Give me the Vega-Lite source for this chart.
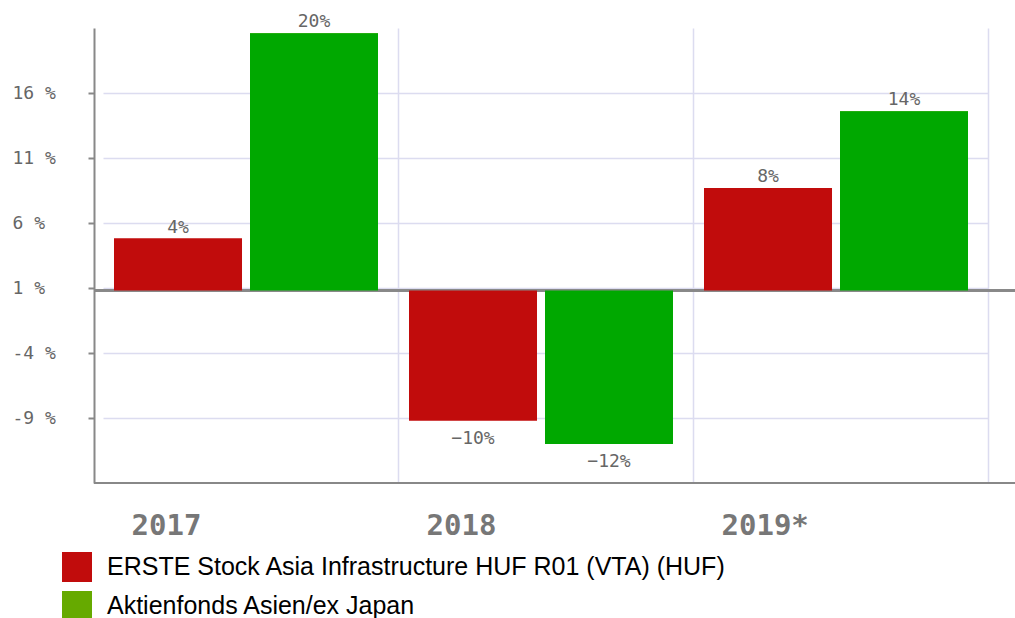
{
  "$schema": "https://vega.github.io/schema/vega-lite/v6.json",
  "autosize": {"type": "none"},
  "width": 921,
  "height": 455,
  "padding": {"left": 94, "top": 28, "right": 0, "bottom": 135},
  "background": "#ffffff",
  "config": {"view": {"stroke": null}},
  "data": {
    "values": [
      {"year": "2017", "series": "ERSTE Stock Asia Infrastructure HUF R01 (VTA) (HUF)", "value": 0.04},
      {"year": "2017", "series": "Aktienfonds Asien/ex Japan", "value": 0.198},
      {"year": "2018", "series": "ERSTE Stock Asia Infrastructure HUF R01 (VTA) (HUF)", "value": -0.1},
      {"year": "2018", "series": "Aktienfonds Asien/ex Japan", "value": -0.118},
      {"year": "2019*", "series": "ERSTE Stock Asia Infrastructure HUF R01 (VTA) (HUF)", "value": 0.079},
      {"year": "2019*", "series": "Aktienfonds Asien/ex Japan", "value": 0.138}
    ]
  },
  "encoding": {
    "x": {
      "field": "year",
      "type": "nominal",
      "sort": ["2017", "2018", "2019*"],
      "scale": {"range": [9, 894], "paddingInner": 0, "paddingOuter": 0},
      "axis": {
        "title": null,
        "grid": true,
        "gridColor": "#dcdcf0",
        "gridWidth": 1.5,
        "bandPosition": 1,
        "ticks": false,
        "tickSize": 0,
        "domain": false,
        "labelAngle": 0,
        "labelAlign": "left",
        "labelOffset": -119,
        "labelPadding": 28,
        "labelFont": "DejaVu Sans Mono",
        "labelFontWeight": "bold",
        "labelFontSize": 29,
        "labelColor": "#777777"
      }
    },
    "xOffset": {
      "field": "series",
      "type": "nominal",
      "sort": ["ERSTE Stock Asia Infrastructure HUF R01 (VTA) (HUF)", "Aktienfonds Asien/ex Japan"],
      "scale": {"paddingInner": 0.0588, "paddingOuter": 0.114, "align": 0.355}
    },
    "y": {
      "field": "value",
      "type": "quantitative",
      "stack": null,
      "scale": {"domain": [-0.148, 0.202], "nice": false, "zero": false},
      "axis": {
        "title": null,
        "values": [-0.098, -0.048, 0.002, 0.052, 0.102, 0.152],
        "labelExpr": "ceil(datum.value*100) + ' %'",
        "grid": true,
        "gridColor": "#dcdcf0",
        "gridWidth": 1.5,
        "domainColor": "#888888",
        "domainWidth": 2,
        "tickColor": "#888888",
        "tickWidth": 2,
        "tickSize": 6,
        "labelAlign": "left",
        "labelPadding": 76,
        "labelFont": "DejaVu Sans Mono",
        "labelFontSize": 18,
        "labelColor": "#666666"
      }
    }
  },
  "layer": [
    {
      "mark": {"type": "bar"},
      "encoding": {
        "fill": {
          "field": "series",
          "type": "nominal",
          "scale": {
            "domain": ["ERSTE Stock Asia Infrastructure HUF R01 (VTA) (HUF)", "Aktienfonds Asien/ex Japan"],
            "range": ["#c10c0c", "#66aa00"]
          },
          "legend": {
            "title": null,
            "orient": "none",
            "legendX": -32,
            "legendY": 524,
            "padding": 0,
            "symbolType": "square",
            "symbolSize": 900,
            "symbolStrokeWidth": 0,
            "rowPadding": 9,
            "labelOffset": 15,
            "labelFont": "Liberation Sans",
            "labelFontSize": 25,
            "labelColor": "#000000",
            "labelLimit": 1000
          }
        }
      }
    },
    {
      "mark": {"type": "rule", "color": "#888888", "strokeWidth": 2},
      "encoding": {"y": {"datum": 0}, "x": null, "xOffset": null}
    },
    {
      "mark": {"type": "rule", "color": "#888888", "strokeWidth": 2},
      "encoding": {"y": {"datum": -0.148}, "x": null, "xOffset": null}
    },
    {
      "mark": {"type": "bar"},
      "encoding": {
        "color": {
          "field": "series",
          "type": "nominal",
          "scale": {
            "domain": ["ERSTE Stock Asia Infrastructure HUF R01 (VTA) (HUF)", "Aktienfonds Asien/ex Japan"],
            "range": ["#c10c0c", "#00a800"]
          },
          "legend": null
        }
      }
    },
    {
      "transform": [{"filter": "datum.value > 0"}],
      "mark": {"type": "text", "baseline": "bottom", "dy": -2, "font": "DejaVu Sans Mono", "fontSize": 18, "color": "#666666"},
      "encoding": {"text": {"field": "value", "type": "quantitative", "format": ".0%"}}
    },
    {
      "transform": [{"filter": "datum.value < 0"}],
      "mark": {"type": "text", "baseline": "top", "dy": 9, "font": "DejaVu Sans Mono", "fontSize": 18, "color": "#666666"},
      "encoding": {"text": {"field": "value", "type": "quantitative", "format": ".0%"}}
    }
  ]
}
